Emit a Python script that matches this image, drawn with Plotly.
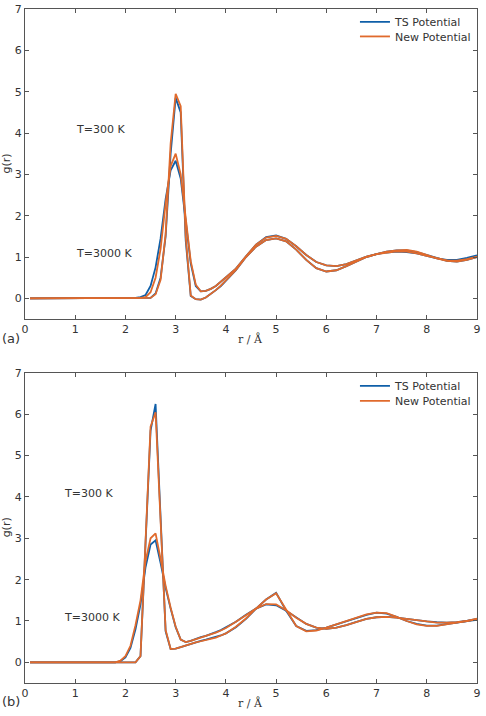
import plotly.graph_objects as go

# ---------------- data ----------------
r_a = [0.1, 0.5, 1.0, 1.5, 2.0, 2.1, 2.2, 2.3, 2.4, 2.5, 2.6, 2.7, 2.8, 2.9, 3.0,
       3.1, 3.2, 3.3, 3.4, 3.5, 3.6, 3.7, 3.8, 3.9, 4.0, 4.2, 4.4, 4.6, 4.8, 5.0,
       5.2, 5.4, 5.6, 5.8, 6.0, 6.2, 6.4, 6.6, 6.8, 7.0, 7.2, 7.4, 7.6, 7.8, 8.0,
       8.2, 8.4, 8.6, 8.8, 9.0]

a300_ts = [0, 0, 0, 0, 0, 0, 0, 0, 0, 0.01, 0.12, 0.5, 1.5, 3.5, 4.85,
           4.5, 1.4, 0.06, -0.02, -0.03, 0.02, 0.1, 0.2, 0.3, 0.42, 0.68, 1.0, 1.25, 1.41, 1.45,
           1.38, 1.18, 0.93, 0.73, 0.65, 0.68, 0.78, 0.9, 1.0, 1.07, 1.13, 1.16, 1.16, 1.12, 1.05,
           0.97, 0.91, 0.89, 0.93, 1.0]
a300_new = [0, 0, 0, 0, 0, 0, 0, 0, 0, 0.01, 0.1, 0.45, 1.55, 3.75, 4.95,
            4.65, 1.5, 0.07, -0.02, -0.03, 0.02, 0.1, 0.2, 0.31, 0.43, 0.69, 1.0, 1.25, 1.41, 1.45,
            1.38, 1.18, 0.93, 0.73, 0.65, 0.68, 0.78, 0.9, 1.0, 1.07, 1.13, 1.16, 1.17, 1.13, 1.05,
            0.97, 0.91, 0.89, 0.93, 1.0]
a3000_ts = [0, 0, 0, 0, 0, 0, 0.01, 0.03, 0.08, 0.3, 0.75, 1.45, 2.4, 3.1, 3.33,
            2.9, 1.9, 0.85, 0.3, 0.17, 0.18, 0.23, 0.3, 0.4, 0.5, 0.72, 1.02, 1.3, 1.48, 1.52,
            1.44, 1.26, 1.05, 0.88, 0.8, 0.78, 0.83, 0.92, 1.01, 1.07, 1.11, 1.13, 1.12, 1.09, 1.03,
            0.97, 0.93, 0.93, 0.98, 1.04]
a3000_new = [0, 0, 0, 0, 0, 0, 0, 0.01, 0.03, 0.15, 0.5, 1.2, 2.3, 3.2, 3.5,
             3.0, 1.95, 0.9, 0.33, 0.17, 0.18, 0.23, 0.3, 0.4, 0.5, 0.72, 1.02, 1.3, 1.47, 1.51,
             1.44, 1.26, 1.05, 0.88, 0.8, 0.78, 0.83, 0.92, 1.01, 1.07, 1.11, 1.14, 1.13, 1.09, 1.03,
             0.97, 0.92, 0.91, 0.95, 1.01]

r_b = [0.1, 0.5, 1.0, 1.5, 1.8, 1.9, 2.0, 2.1, 2.2, 2.3, 2.4, 2.5, 2.6, 2.7, 2.8,
       2.9, 3.0, 3.1, 3.2, 3.3, 3.4, 3.5, 3.6, 3.7, 3.8, 3.9, 4.0, 4.2, 4.4, 4.6,
       4.8, 5.0, 5.2, 5.4, 5.6, 5.8, 6.0, 6.2, 6.4, 6.6, 6.8, 7.0, 7.2, 7.4, 7.6,
       7.8, 8.0, 8.2, 8.4, 8.6, 8.8, 9.0]

b300_ts = [0, 0, 0, -0.01, -0.01, 0, 0, 0, 0, 0.15, 2.9, 5.6, 6.25, 3.4, 0.75,
           0.32, 0.33, 0.37, 0.41, 0.45, 0.49, 0.52, 0.55, 0.58, 0.61, 0.65, 0.7, 0.85, 1.05, 1.3,
           1.52, 1.68, 1.25, 0.88, 0.76, 0.78, 0.84, 0.92, 1.0, 1.08, 1.15, 1.2, 1.18, 1.1, 1.0,
           0.93, 0.89, 0.89, 0.92, 0.96, 1.0, 1.03]
b300_new = [0, 0, 0, -0.01, -0.01, 0, 0, 0, 0, 0.15, 3.0, 5.7, 6.05, 3.45, 0.78,
            0.32, 0.33, 0.37, 0.41, 0.45, 0.48, 0.51, 0.54, 0.57, 0.6, 0.65, 0.7, 0.86, 1.06, 1.3,
            1.52, 1.67, 1.27, 0.88, 0.75, 0.77, 0.84, 0.92, 1.0, 1.09, 1.16, 1.2, 1.19, 1.1, 1.0,
            0.92, 0.88, 0.88, 0.92, 0.97, 1.01, 1.04]
b3000_ts = [0, 0, 0, 0, 0, 0.03, 0.12, 0.35, 0.8, 1.4, 2.3, 2.85, 2.95, 2.4, 1.8,
            1.3, 0.85, 0.55, 0.49, 0.52, 0.57, 0.61, 0.64, 0.68, 0.73, 0.78, 0.84, 0.98, 1.15, 1.3,
            1.4, 1.38, 1.25, 1.08, 0.93, 0.84, 0.81, 0.84, 0.9, 0.98, 1.05, 1.09, 1.1, 1.08, 1.05,
            1.01, 0.99, 0.97, 0.96, 0.97, 1.0, 1.05]
b3000_new = [0, 0, 0, 0, 0, 0.04, 0.15, 0.4, 0.9, 1.5, 2.45, 3.0, 3.12, 2.5, 1.85,
             1.32, 0.86, 0.55, 0.49, 0.52, 0.56, 0.6, 0.63, 0.67, 0.72, 0.77, 0.83, 0.98, 1.15, 1.3,
             1.41, 1.4, 1.26, 1.08, 0.93, 0.84, 0.81, 0.84, 0.9, 0.98, 1.05, 1.09, 1.1, 1.08, 1.05,
             1.01, 0.98, 0.96, 0.96, 0.97, 1.0, 1.06]

x_ticks = [0, 1, 2, 3, 4, 5, 6, 7, 8, 9]
y_ticks = [0, 1, 2, 3, 4, 5, 6, 7]
series_names = ["TS Potential", "New Potential"]

BLUE = "#0F5FA8"
ORANGE = "#E06A2C"
FONT = "DejaVu Sans"
TXT = "#333333"
AX = "#555555"

fig = go.Figure()

def add(x, y, color, name, xa, ya, leg, show):
    fig.add_trace(go.Scatter(x=x, y=y, mode="lines", name=name,
                             line=dict(color=color, width=1.8),
                             xaxis=xa, yaxis=ya, legend=leg, showlegend=show))

# panel (a)
add(r_a, a300_ts, BLUE, series_names[0], "x", "y", "legend", True)
add(r_a, a3000_ts, BLUE, series_names[0], "x", "y", "legend", False)
add(r_a, a300_new, ORANGE, series_names[1], "x", "y", "legend3", True)
add(r_a, a3000_new, ORANGE, series_names[1], "x", "y", "legend3", False)
# panel (b)
add(r_b, b300_ts, BLUE, series_names[0], "x2", "y2", "legend2", True)
add(r_b, b3000_ts, BLUE, series_names[0], "x2", "y2", "legend2", False)
add(r_b, b300_new, ORANGE, series_names[1], "x2", "y2", "legend4", True)
add(r_b, b3000_new, ORANGE, series_names[1], "x2", "y2", "legend4", False)

axis_common = dict(showgrid=False, zeroline=False, showline=True, linecolor=AX,
                   linewidth=1, mirror="ticks", ticks="inside", ticklen=4,
                   tickcolor=AX, automargin=False,
                   tickfont=dict(family=FONT, size=11, color=TXT))

def leg(ypos):
    return dict(x=0.730, y=ypos, xanchor="left", yanchor="middle",
                bgcolor="rgba(0,0,0,0)", font=dict(family=FONT, size=11, color=TXT),
                tracegroupgap=0, itemwidth=30)

fig.update_layout(
    width=486, height=716,
    margin=dict(l=25, r=9, t=7, b=33),
    paper_bgcolor="white", plot_bgcolor="white",
    xaxis=dict(domain=[0, 1], anchor="y", range=[0, 9], tickvals=x_ticks, **axis_common),
    yaxis=dict(domain=[0.540, 1], anchor="x", range=[-0.5, 7], tickvals=y_ticks, **axis_common),
    xaxis2=dict(domain=[0, 1], anchor="y2", range=[0, 9], tickvals=x_ticks, **axis_common),
    yaxis2=dict(domain=[0, 0.460], anchor="x2", range=[-0.5, 7], tickvals=y_ticks, **axis_common),
    legend=leg(0.9808),
    legend3=leg(0.9593),
    legend2=leg(0.4408),
    legend4=leg(0.4186),
)

ann_font = dict(family=FONT, size=11, color=TXT)
labels = [("T=300 K", 0.98, 4.08, "x", "y"), ("T=3000 K", 0.98, 1.09, "x", "y"),
          ("T=300 K", 0.74, 4.08, "x2", "y2"), ("T=3000 K", 0.74, 1.09, "x2", "y2")]
for t, xx, yy, xr, yr in labels:
    fig.add_annotation(text=t, x=xx, y=yy, xref=xr, yref=yr, xanchor="left",
                       yanchor="middle", showarrow=False, font=ann_font)

for yp in [0.5104, -0.0296]:
    fig.add_annotation(text="r / Å", x=0.498, y=yp, xref="paper", yref="paper",
                       xanchor="center", yanchor="middle", showarrow=False,
                       font=dict(family="DejaVu Serif", size=11, color=TXT))
for yp in [0.7707, 0.2308]:
    fig.add_annotation(text="g(r)", x=-0.040, y=yp, xref="paper", yref="paper",
                       xanchor="center", yanchor="middle", textangle=-90, showarrow=False,
                       font=ann_font)
for t, yp in [("(a)", 0.5118), ("(b)", -0.0281)]:
    fig.add_annotation(text=t, x=-0.056, y=yp, xref="paper", yref="paper",
                       xanchor="left", yanchor="middle", showarrow=False,
                       font=dict(family=FONT, size=13, color=TXT))

fig.write_html("out.html")
